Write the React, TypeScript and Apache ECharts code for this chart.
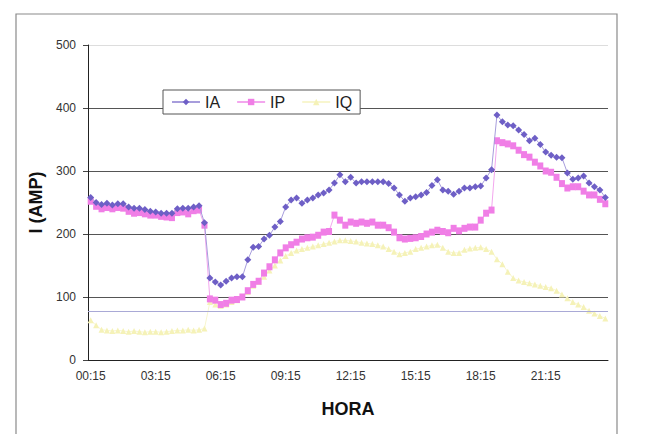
import React, { useEffect, useRef } from "react";
import * as echarts from "echarts";

// Time categories: 00:15 ... 23:45, 00:00 (15-minute steps)
const hours: string[] = [];
for (let i = 1; i <= 96; i++) {
  const m = (i * 15) % (24 * 60);
  const hh = String(Math.floor(m / 60)).padStart(2, "0");
  const mm = String(m % 60).padStart(2, "0");
  hours.push(`${hh}:${mm}`);
}

const yTicks = [0, 100, 200, 300, 400, 500];

const IA = [
  258, 250, 247, 249, 246, 248, 248, 243, 241, 241, 239, 236, 235, 233, 233, 233,
  240, 241, 241, 243, 245, 218, 130, 124, 119, 125, 130, 132, 132, 159, 179, 180,
  192, 198, 211, 220, 243, 254, 257, 249, 254, 257, 262, 265, 270, 281, 294, 283,
  290, 281, 283, 283, 283, 283, 283, 280, 273, 262, 252, 257, 259, 262, 266, 277,
  286, 270, 268, 263, 268, 273, 273, 275, 276, 289, 302, 389, 378, 373, 372, 365,
  358, 348, 352, 342, 330, 325, 322, 321, 297, 287, 289, 292, 281, 275, 270, 258,
];

const IP = [
  252, 244, 240, 242, 240, 242, 241, 236, 233, 234, 232, 230, 230, 228, 227, 226,
  234, 235, 232, 237, 238, 214, 97, 95, 88, 90, 95, 96, 100, 110, 120, 125,
  138, 148, 159, 170, 178, 183, 187, 192, 194, 195, 198, 203, 204, 230, 222, 214,
  219, 217, 219, 217, 219, 214, 214, 210, 203, 194, 192, 193, 194, 196, 200, 203,
  206, 204, 202, 209, 205, 209, 211, 211, 222, 233, 238, 348, 345, 343, 340, 333,
  326, 322, 314, 308, 300, 298, 290, 280, 273, 275, 275, 268, 262, 262, 255, 248,
];

const IQ = [
  63, 55, 48, 47, 46, 47, 46, 45, 46, 45, 44, 45, 45, 44, 45, 46,
  47, 47, 48, 47, 48, 50, 92, 88, 86, 88, 92, 95, 100, 108, 118, 124,
  132, 142, 150, 158, 165, 170, 174, 176, 178, 180, 182, 184, 186, 188, 190, 190,
  189, 188, 186, 185, 184, 182, 180, 176, 172, 168, 170, 172, 176, 178, 180, 182,
  183, 178, 172, 170, 170, 175, 177, 178, 179, 176, 172, 160, 152, 140, 130, 126,
  124, 122, 120, 118, 116, 114, 110, 104, 98, 92, 88, 84, 78, 74, 70, 66,
];

const refLevel = 78;

const FONT = "'Liberation Sans', Arial, sans-serif";

export default function App() {
  const ref = useRef<HTMLDivElement>(null);
  useEffect(() => {
    if (!ref.current) return;
    const chart = echarts.init(ref.current, undefined, { renderer: "svg" });
    chart.setOption({
      animation: false,
      backgroundColor: "#ffffff",
      textStyle: { fontFamily: FONT },
      graphic: [
        {
          type: "rect",
          shape: { x: 16, y: 14, width: 601, height: 440 },
          style: { fill: "none", stroke: "#8a8a8a", lineWidth: 1.2 },
          silent: true,
          z: -1,
        },
      ],
      legend: {
        left: 163,
        top: 90,
        orient: "horizontal",
        backgroundColor: "#ffffff",
        borderColor: "#555",
        borderWidth: 1,
        borderRadius: 0,
        padding: [4, 8, 4, 8],
        itemWidth: 28,
        itemHeight: 8,
        itemGap: 16,
        textStyle: { fontSize: 16, color: "#222", fontFamily: FONT },
        data: ["IA", "IP", "IQ"],
        z: 10,
      },
      grid: { left: 88, right: 39, top: 45, bottom: 74, containLabel: false },
      xAxis: {
        type: "category",
        data: hours,
        boundaryGap: true,
        name: "HORA",
        nameLocation: "middle",
        nameGap: 40,
        nameTextStyle: { fontSize: 18, fontWeight: "bold", color: "#111", fontFamily: FONT },
        axisLine: { lineStyle: { color: "#222", width: 1 } },
        axisTick: { interval: 0, length: 4, lineStyle: { color: "#555" } },
        axisLabel: { interval: 11, fontSize: 12, color: "#333", margin: 10, fontFamily: FONT },
        splitLine: { show: false },
      },
      yAxis: {
        type: "value",
        min: 0,
        max: 500,
        interval: 100,
        name: "I (AMP)",
        nameLocation: "middle",
        nameRotate: 90,
        nameGap: 42,
        nameTextStyle: { fontSize: 18, fontWeight: "bold", color: "#111", fontFamily: FONT },
        axisLine: { show: true, lineStyle: { color: "#222", width: 1 } },
        axisTick: { show: true, length: 5, lineStyle: { color: "#444" } },
        axisLabel: {
          fontSize: 12,
          color: "#333",
          margin: 12,
          fontFamily: FONT,
          formatter: (v: number) => (yTicks.includes(v) ? String(v) : ""),
        },
        splitLine: {
          show: true,
          lineStyle: { color: ["#555", "#555", "#555", "#555", "#555", "#dddddd"], width: 1 },
        },
      },
      series: [
        {
          name: "IQ",
          type: "line",
          data: IQ,
          showAllSymbol: true,
          symbol: "triangle",
          symbolSize: 6,
          itemStyle: { color: "#f5f2b8" },
          lineStyle: { color: "#f8f6cf", width: 1 },
          z: 2,
          markLine: {
            silent: true,
            symbol: ["none", "none"],
            label: { show: false },
            lineStyle: { color: "#a9a9d6", width: 1, type: "solid" },
            data: [{ yAxis: refLevel }],
          },
        },
        {
          name: "IP",
          type: "line",
          data: IP,
          showAllSymbol: true,
          symbol: "rect",
          symbolSize: [6, 7],
          itemStyle: { color: "#f07ee6" },
          lineStyle: { color: "#f3a6ee", width: 1 },
          z: 3,
        },
        {
          name: "IA",
          type: "line",
          data: IA,
          showAllSymbol: true,
          symbol: "diamond",
          symbolSize: 7,
          itemStyle: { color: "#6e5fc6" },
          lineStyle: { color: "#a79ddc", width: 1 },
          z: 4,
        },
      ],
    });
    return () => chart.dispose();
  }, []);
  return (
    <div
      ref={ref}
      style={{ position: "fixed", left: 0, top: 0, width: 647, height: 434, background: "#fff" }}
    />
  );
}
